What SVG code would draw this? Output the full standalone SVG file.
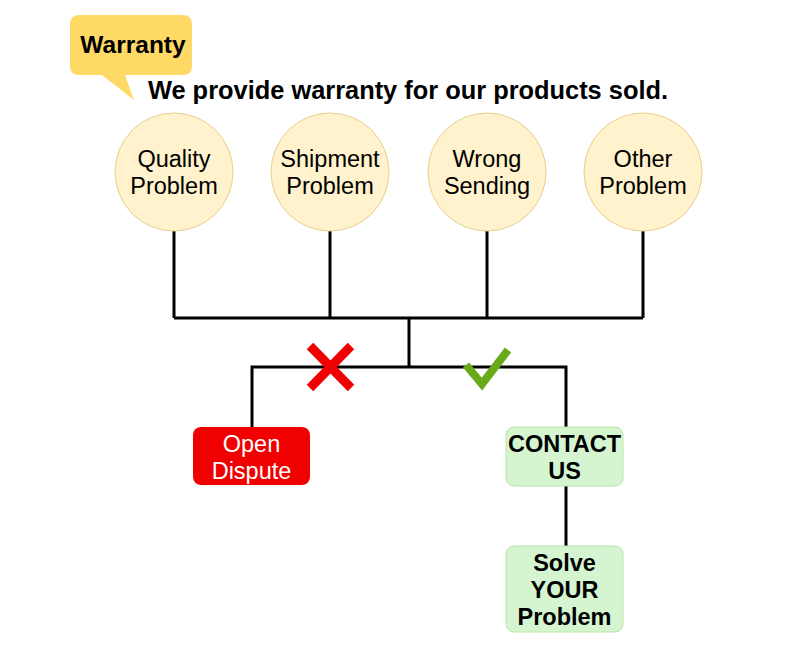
<svg xmlns="http://www.w3.org/2000/svg" width="800" height="656" viewBox="0 0 800 656">
<style>
.t{font-family:"Liberation Sans",Arial,sans-serif;font-size:23.5px;text-anchor:middle;fill:#000}
.b{font-weight:bold}
.c{fill:#FFF2CC;stroke:#E6D08A;stroke-width:1}
.g{fill:#D5F5D0;stroke:#B9E6A8;stroke-width:1}
.ln{fill:none;stroke:#000;stroke-width:3}
</style>
<rect width="800" height="656" fill="#fff"/>
<g id="bubble">
<path d="M80,15 H183 Q192,15 192,24 V66 Q192,75 183,75 H125 L134,100 L102,75 H79 Q70,75 70,66 V24 Q70,15 80,15 Z" fill="#FFD966"/>
<text class="t b" x="133" y="53" style="font-size:24.5px">Warranty</text>
</g>
<g id="headline">
<text class="t b" x="408" y="99" style="font-size:25.4px">We provide warranty for our products sold.</text>
</g>
<g id="connectors">
<path class="ln" d="M174,231 V318 M330,231 V318 M487,231 V318 M643,231 V318 M174,318 H643 M409,318 V367 M252,427 V367 H566 V427 M566,486 V546"/>
</g>
<g id="quality"><circle class="c" cx="174" cy="172" r="59"/><text class="t" x="174" y="167">Quality</text><text class="t" x="174" y="194">Problem</text></g>
<g id="shipment"><circle class="c" cx="330" cy="172" r="59"/><text class="t" x="330" y="167">Shipment</text><text class="t" x="330" y="194">Problem</text></g>
<g id="wrong"><circle class="c" cx="487" cy="172" r="59"/><text class="t" x="487" y="167">Wrong</text><text class="t" x="487" y="194">Sending</text></g>
<g id="other"><circle class="c" cx="643" cy="172" r="59"/><text class="t" x="643" y="167">Other</text><text class="t" x="643" y="194">Problem</text></g>
<g id="cross"><path d="M310,346 L351,388 M351,346 L310,388" stroke="#F00000" stroke-width="9" fill="none"/></g>
<g id="check"><path d="M466,365 L482,384 L508,350" stroke="#6AAA1A" stroke-width="8" fill="none"/></g>
<g id="open-dispute"><rect x="193" y="427" width="117" height="58" rx="8" fill="#F00000"/><text class="t" x="251.5" y="452" style="fill:#fff">Open</text><text class="t" x="251.5" y="479" style="fill:#fff">Dispute</text></g>
<g id="contact"><rect class="g" x="506" y="427" width="117" height="59" rx="8"/><text class="t b" x="564.5" y="452">CONTACT</text><text class="t b" x="564.5" y="479">US</text></g>
<g id="solve"><rect class="g" x="506" y="546" width="117" height="86" rx="8"/><text class="t b" x="564.5" y="571">Solve</text><text class="t b" x="564.5" y="598">YOUR</text><text class="t b" x="564.5" y="625">Problem</text></g>
</svg>
